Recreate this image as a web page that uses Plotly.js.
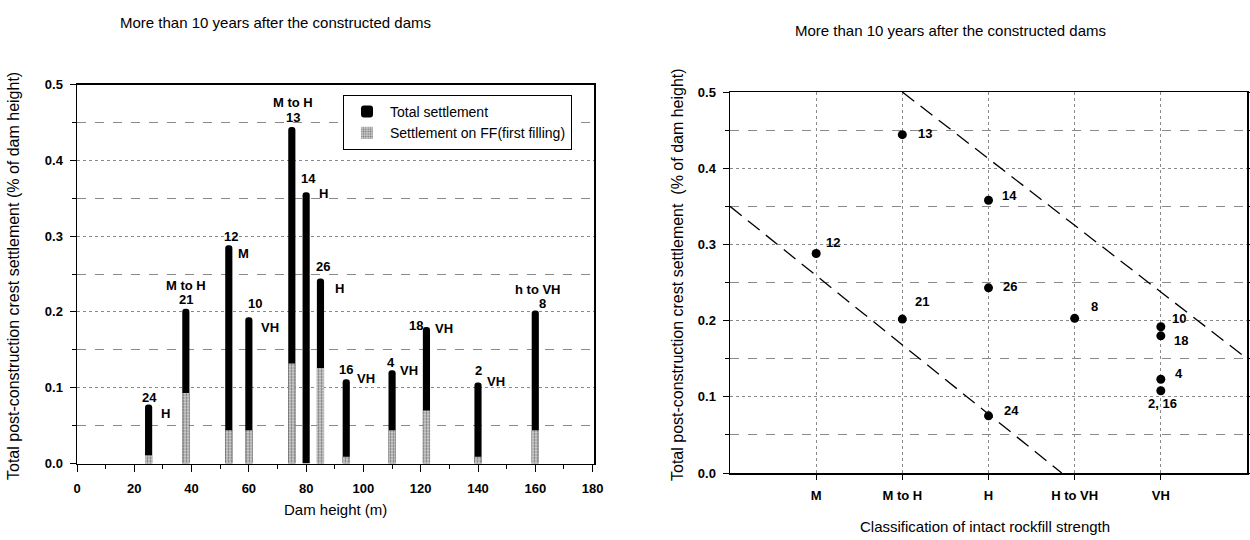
<!DOCTYPE html>
<html>
<head>
<meta charset="utf-8">
<script src="https://cdn.plot.ly/plotly-3.0.1.min.js"></script>
<style>
  html, body { margin: 0; padding: 0; background: #ffffff; }
  #chart { width: 1250px; height: 540px; }
</style>
</head>
<body>
<div id="chart"></div>
<script>
// ---------- Data (left chart: settlement vs dam height) ----------
const damIds = ['24', '21', '12', '10', '13', '14', '26', '16', '4', '18', '2', '8'];
const damHeight = [25, 38, 53, 60, 75, 80, 85, 94, 110, 122, 140, 160];
const totalSettlement = [0.078, 0.204, 0.288, 0.193, 0.444, 0.358, 0.244, 0.111, 0.123, 0.180, 0.107, 0.202];
const ffSettlement = [0.011, 0.093, 0.044, 0.044, 0.132, 0.000, 0.126, 0.009, 0.044, 0.070, 0.009, 0.044];
const rockClass = ['H', 'M to H', 'M', 'VH', 'M to H', 'H', 'H', 'VH', 'VH', 'VH', 'VH', 'h to VH'];

// ---------- Data (right chart: settlement vs rockfill strength) ----------
const strengthCategories = ['M', 'M to H', 'H', 'H to VH', 'VH'];
const pointLabels = ['13', '12', '21', '14', '26', '24', '8', '10', '18', '4', '2, 16'];
const pointClass = ['M to H', 'M', 'M to H', 'H', 'H', 'H', 'H to VH', 'VH', 'VH', 'VH', 'VH'];
const pointSettlement = [0.444, 0.288, 0.202, 0.358, 0.243, 0.075, 0.203, 0.192, 0.180, 0.123, 0.108];

// envelope (dashed) lines, in category-index units
const upperEnvelopeX = [2, 6];
const upperEnvelopeY = [0.5, 0.15];
const lowerEnvelopeX = [0, 3.85];
const lowerEnvelopeY = [0.35, 0.0];

// ---------- Styles ----------
const FONT = 'Arial, "Liberation Sans", sans-serif';
// label offsets (px): [num dx, num dy, class dx, class dy], dy positive = down
const leftLabelOffsets = {
  '24': [1, -7, 17, 9], '21': [0, -9, 0, -23], '12': [2, -9, 15, 8], '10': [6, -14, 21, 10],
  '13': [1, -9, 1, -24], '14': [2, -14, 17, 1], '26': [3, -12, 19, 10], '16': [0, -10, 20, -1],
  '4': [-1, -8, 17, 0], '18': [-10, -2, 18, 1], '2': [0, -12, 18, -1], '8': [7, -7, 3, -21]
};
// right label offsets: [dx, dy, anchor]
const rightLabelOffsets = {
  '13': [14, -1, 'left'], '12': [8, -11, 'left'], '21': [11, -18, 'left'], '14': [11, -5, 'left'],
  '26': [12, -1, 'left'], '24': [13, -5, 'left'], '8': [14, -12, 'left'], '10': [9, -8, 'left'],
  '18': [11, 5, 'left'], '4': [12, -6, 'left'], '2, 16': [2, 13, 'center']
};

const W = 1250, H = 540;
const px = v => v / W;
const py = v => (H - v) / H;

const traces = [
  {
    type: 'bar', name: 'Total settlement',
    x: damHeight, y: totalSettlement, width: 2.5,
    marker: { color: '#000000', cornerradius: 3.5, line: { width: 0 } },
    xaxis: 'x', yaxis: 'y', hoverinfo: 'skip'
  },
  {
    type: 'bar', name: 'Settlement on FF(first filling)',
    x: damHeight, y: ffSettlement, width: 2.5,
    marker: {
      color: '#bdbdbd', line: { width: 0 },
      pattern: { shape: '.', fgcolor: '#707070', bgcolor: '#cccccc', size: 3, solidity: 0.35 }
    },
    xaxis: 'x', yaxis: 'y', hoverinfo: 'skip'
  },
  {
    type: 'scatter', mode: 'lines', showlegend: false,
    x: upperEnvelopeX, y: upperEnvelopeY,
    line: { color: '#000000', width: 1.3, dash: '15px,8px' },
    xaxis: 'x2', yaxis: 'y2', hoverinfo: 'skip'
  },
  {
    type: 'scatter', mode: 'lines', showlegend: false,
    x: lowerEnvelopeX, y: lowerEnvelopeY,
    line: { color: '#000000', width: 1.3, dash: '15px,8px' },
    xaxis: 'x2', yaxis: 'y2', hoverinfo: 'skip'
  },
  {
    type: 'scatter', mode: 'markers', showlegend: false,
    x: pointClass.map(c => strengthCategories.indexOf(c) + 1), y: pointSettlement,
    marker: { color: '#000000', size: 9 },
    xaxis: 'x2', yaxis: 'y2', hoverinfo: 'skip'
  }
];

const annFont = { family: FONT, size: 13, color: '#000000', weight: 'bold' };
const annotations = [];
damIds.forEach((id, i) => {
  const o = leftLabelOffsets[id];
  annotations.push({
    xref: 'x', yref: 'y', x: damHeight[i], y: totalSettlement[i], text: id, showarrow: false,
    xanchor: 'center', yanchor: 'middle', xshift: o[0], yshift: -o[1], font: annFont
  });
  annotations.push({
    xref: 'x', yref: 'y', x: damHeight[i], y: totalSettlement[i], text: rockClass[i], showarrow: false,
    xanchor: 'center', yanchor: 'middle', xshift: o[2], yshift: -o[3], font: annFont
  });
});
pointLabels.forEach((lab, i) => {
  const o = rightLabelOffsets[lab];
  annotations.push({
    xref: 'x2', yref: 'y2', x: strengthCategories.indexOf(pointClass[i]) + 1, y: pointSettlement[i],
    text: lab, showarrow: false, xanchor: o[2], yanchor: 'middle', xshift: o[0], yshift: -o[1], font: annFont
  });
});

const titleFont = { family: FONT, size: 15, color: '#000000' };
const yTitleFont = { family: FONT, size: 16, color: '#000000' };
const chartTitle = 'More than 10 years after the constructed dams';
annotations.push(
  { xref: 'paper', yref: 'paper', x: px(275), y: py(22), text: chartTitle, showarrow: false,
    xanchor: 'center', yanchor: 'middle', font: titleFont },
  { xref: 'paper', yref: 'paper', x: px(950), y: py(30), text: chartTitle, showarrow: false,
    xanchor: 'center', yanchor: 'middle', font: titleFont },
  { xref: 'paper', yref: 'paper', x: px(13), y: py(276), textangle: -90,
    text: 'Total post-construction crest settlement (% of dam height)', showarrow: false,
    xanchor: 'center', yanchor: 'middle', font: yTitleFont },
  { xref: 'paper', yref: 'paper', x: px(677), y: py(275), textangle: -90,
    text: 'Total post-construction crest settlement&nbsp;&nbsp;(% of dam height)', showarrow: false,
    xanchor: 'center', yanchor: 'middle', font: yTitleFont },
  { xref: 'paper', yref: 'paper', x: px(335), y: py(509), text: 'Dam height (m)', showarrow: false,
    xanchor: 'center', yanchor: 'middle', font: titleFont },
  { xref: 'paper', yref: 'paper', x: px(985), y: py(526), text: 'Classification of intact rockfill strength',
    showarrow: false, xanchor: 'center', yanchor: 'middle', font: titleFont }
);

const tickFont = { family: FONT, size: 13, color: '#000000', weight: 'bold' };
const gridMajor = { showgrid: true, gridcolor: '#8a8a8a', gridwidth: 1, griddash: 'dot' };

const layout = {
  width: W, height: H,
  margin: { l: 0, r: 0, t: 0, b: 0 },
  paper_bgcolor: '#ffffff', plot_bgcolor: '#ffffff',
  barmode: 'overlay',
  font: { family: FONT, color: '#000000' },
  showlegend: true,
  legend: {
    x: px(343), y: py(95), xanchor: 'left', yanchor: 'top',
    bgcolor: '#ffffff', bordercolor: '#000000', borderwidth: 1,
    font: { family: FONT, size: 14, color: '#000000' },
    traceorder: 'normal', itemwidth: 36, tracegroupgap: 0
  },
  xaxis: {
    domain: [px(77), px(594)], range: [0, 180.5], anchor: 'y',
    tickmode: 'array', tickvals: [0, 20, 40, 60, 80, 100, 120, 140, 160, 180],
    ticks: 'outside', ticklen: 7, tickwidth: 1, tickcolor: '#000',
    minor: { tickvals: [10, 30, 50, 70, 90, 110, 130, 150, 170], ticks: 'outside', ticklen: 4, tickcolor: '#000' },
    showline: true, linecolor: '#000000', linewidth: 1.5, mirror: true,
    showgrid: false, zeroline: false, tickfont: tickFont, ticklabelstandoff: 5
  },
  yaxis: {
    domain: [py(463.5), py(84.5)], range: [0, 0.5], anchor: 'x',
    tickmode: 'array', tickvals: [0, 0.1, 0.2, 0.3, 0.4, 0.5],
    ticktext: ['0.0', '0.1', '0.2', '0.3', '0.4', '0.5'],
    ticks: 'outside', ticklen: 6, tickwidth: 1, tickcolor: '#000',
    showline: true, linecolor: '#000000', linewidth: 1.5, mirror: true,
    ...gridMajor, zeroline: false, tickfont: tickFont, ticklabelstandoff: 4,
    minor: { tickvals: [0.05, 0.15, 0.25, 0.35, 0.45], ticks: 'outside', ticklen: 4, tickcolor: '#000',
             showgrid: true, gridcolor: '#8a8a8a', gridwidth: 1, griddash: 'dash' }
  },
  xaxis2: {
    domain: [px(730), px(1247)], range: [0, 6], anchor: 'y2',
    tickmode: 'array', tickvals: strengthCategories.map((c, i) => i + 1), ticktext: strengthCategories,
    ticks: 'outside', ticklen: 5, tickwidth: 1, tickcolor: '#000',
    showline: true, linecolor: '#000000', linewidth: 1.5, mirror: true,
    ...gridMajor, zeroline: false, tickfont: tickFont, ticklabelstandoff: 5
  },
  yaxis2: {
    domain: [py(473), py(92)], range: [0, 0.5], anchor: 'x2',
    tickmode: 'array', tickvals: [0, 0.1, 0.2, 0.3, 0.4, 0.5],
    ticktext: ['0.0', '0.1', '0.2', '0.3', '0.4', '0.5'],
    ticks: 'outside', ticklen: 6, tickwidth: 1, tickcolor: '#000',
    showline: true, linecolor: '#000000', linewidth: 1.5, mirror: 'ticks',
    ...gridMajor, zeroline: false, tickfont: tickFont, ticklabelstandoff: 4,
    minor: { tickvals: [0.05, 0.15, 0.25, 0.35, 0.45], ticks: 'outside', ticklen: 4, tickcolor: '#000',
             showgrid: true, gridcolor: '#8a8a8a', gridwidth: 1, griddash: 'dash' }
  },
  annotations: annotations
};

Plotly.newPlot('chart', traces, layout, { staticPlot: true, displayModeBar: false });
</script>
</body>
</html>
